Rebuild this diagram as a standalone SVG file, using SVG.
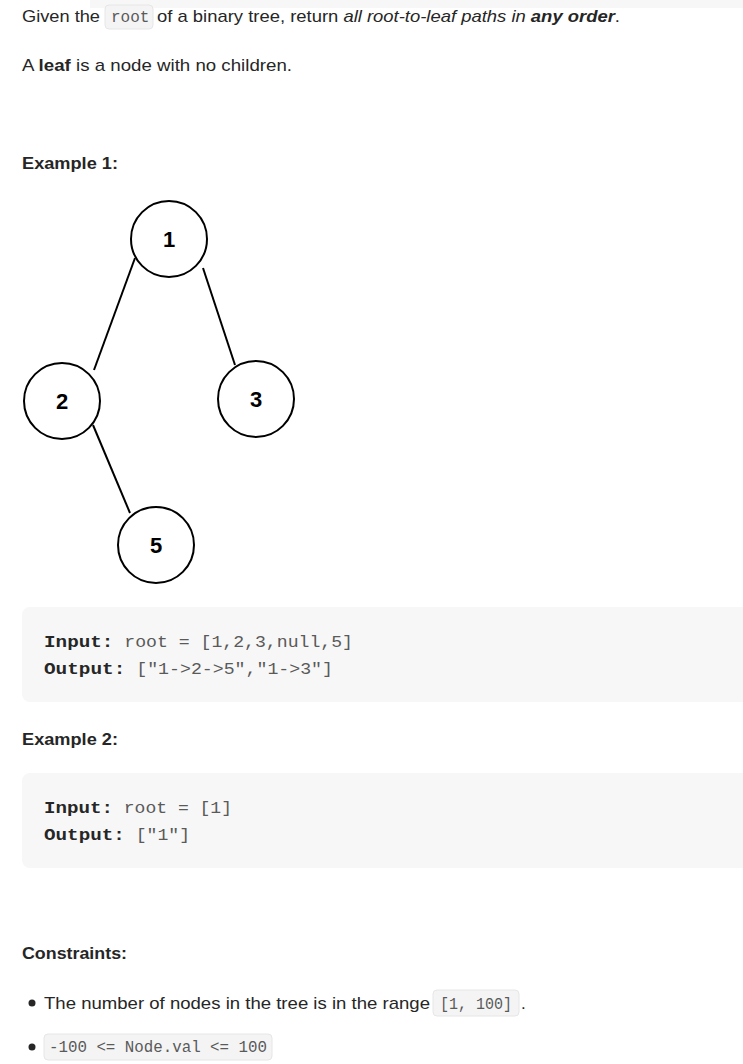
<svg xmlns="http://www.w3.org/2000/svg" width="743" height="1064" viewBox="0 0 743 1064">
<style>
.t{font-family:"Liberation Sans",Arial,sans-serif;font-size:17px;fill:#262626}
.b{font-weight:bold}
.m{font-family:"Liberation Mono",monospace;font-size:16px;fill:#5a5a5a}
.mb{font-family:"Liberation Mono",monospace;font-size:17px;font-weight:bold;fill:#262626}
.ic{fill:#f4f4f4;stroke:#e6e6e6;rx:4}
.n circle{fill:#fff;stroke:#000;stroke-width:2}
.n text{font-family:"Liberation Sans",Arial,sans-serif;font-size:22px;font-weight:bold;text-anchor:middle}
.e line{stroke:#000;stroke-width:2}
</style>
<rect width="743" height="1064" fill="#fff"/>
<rect x="90" y="0" width="653" height="8" fill="#f7f7f8"/>
<rect class="ic" x="105" y="5" width="48" height="24"/>
<text class="t" x="22" y="22" textLength="78" lengthAdjust="spacingAndGlyphs">Given the</text>
<text class="m" x="111" y="22">root</text>
<text class="t" x="157" y="22" textLength="463" lengthAdjust="spacingAndGlyphs">of a binary tree, return <tspan font-style="italic">all root-to-leaf paths in </tspan><tspan class="b" font-style="italic">any order</tspan>.</text>
<text class="t" x="22" y="71" textLength="270" lengthAdjust="spacingAndGlyphs">A <tspan class="b">leaf</tspan> is a node with no children.</text>
<text class="t b" x="22" y="169" textLength="96" lengthAdjust="spacingAndGlyphs">Example 1:</text>
<g class="e" id="edges">
<line x1="135" y1="258" x2="94" y2="370"/>
<line x1="203" y1="268" x2="235" y2="365"/>
<line x1="93" y1="425" x2="130" y2="513"/>
</g>
<g class="n" id="n1"><circle cx="169" cy="239" r="38"/><text x="169" y="247">1</text></g>
<g class="n" id="n2"><circle cx="62" cy="401" r="38"/><text x="62" y="409">2</text></g>
<g class="n" id="n3"><circle cx="256" cy="399" r="38"/><text x="256" y="407">3</text></g>
<g class="n" id="n5"><circle cx="156" cy="545" r="38"/><text x="156" y="553">5</text></g>
<rect x="22" y="607" width="740" height="95" rx="8" fill="#f7f7f7"/>
<text x="44" y="647" textLength="309" lengthAdjust="spacingAndGlyphs"><tspan class="mb">Input:</tspan><tspan class="m"> root = [1,2,3,null,5]</tspan></text>
<text x="44" y="674" textLength="289" lengthAdjust="spacingAndGlyphs"><tspan class="mb">Output:</tspan><tspan class="m"> ["1-&gt;2-&gt;5","1-&gt;3"]</tspan></text>
<text class="t b" x="22" y="745" textLength="96" lengthAdjust="spacingAndGlyphs">Example 2:</text>
<rect x="22" y="773" width="740" height="95" rx="8" fill="#f7f7f7"/>
<text x="44" y="813" textLength="188" lengthAdjust="spacingAndGlyphs"><tspan class="mb">Input:</tspan><tspan class="m"> root = [1]</tspan></text>
<text x="44" y="840" textLength="146" lengthAdjust="spacingAndGlyphs"><tspan class="mb">Output:</tspan><tspan class="m"> ["1"]</tspan></text>
<text class="t b" x="22" y="959" textLength="105" lengthAdjust="spacingAndGlyphs">Constraints:</text>
<circle cx="32" cy="1003" r="3.5" fill="#262626"/>
<text class="t" x="44" y="1009" textLength="386" lengthAdjust="spacingAndGlyphs">The number of nodes in the tree is in the range</text>
<rect class="ic" x="433" y="990" width="86" height="26"/>
<text class="m" x="440" y="1009" textLength="72" lengthAdjust="spacingAndGlyphs">[1, 100]</text>
<text class="t" x="521" y="1009">.</text>
<circle cx="32" cy="1047" r="3.5" fill="#262626"/>
<rect class="ic" x="44" y="1034" width="228" height="26"/>
<text class="m" x="49" y="1052" textLength="218" lengthAdjust="spacingAndGlyphs">-100 &lt;= Node.val &lt;= 100</text>
</svg>
